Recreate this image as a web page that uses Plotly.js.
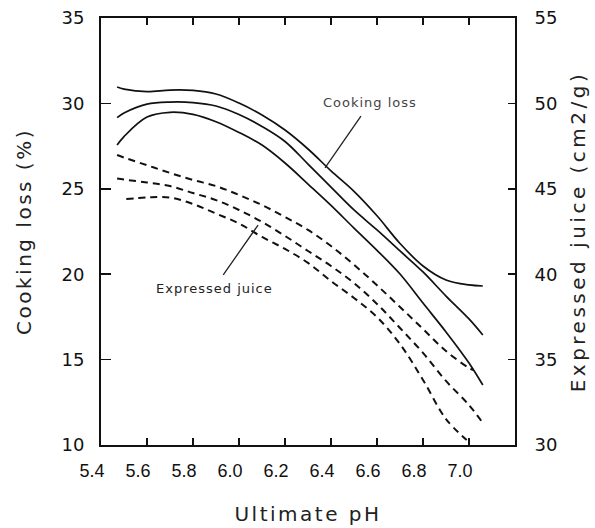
<!DOCTYPE html>
<html>
<head>
<meta charset="utf-8">
<script src="https://cdn.plot.ly/plotly-3.0.1.min.js"></script>
<style>
  html, body { margin: 0; padding: 0; background: #fff; }
  #chart { width: 595px; height: 528px; }
  .g-ytitle text { letter-spacing: 2.5px; }
  .g-y2title text { letter-spacing: 3.5px; }
  .g-xtitle text { letter-spacing: 2.5px; }
  .annotation-text { letter-spacing: 1px; }
</style>
</head>
<body>
<div id="chart"></div>
<script>
// Ultimate pH positions of the read points
const pHCook = [5.47, 5.5, 5.6, 5.7, 5.8, 5.9, 6.0, 6.1, 6.2, 6.3, 6.4, 6.5, 6.6, 6.7, 6.8, 6.9, 7.0, 7.06];
// Cooking loss (%) – three solid curves (left axis)
const cookUpper = [30.96, 30.84, 30.69, 30.78, 30.76, 30.55, 30.02, 29.32, 28.44, 27.33, 26.05, 24.85, 23.42, 21.80, 20.48, 19.66, 19.37, 19.31];
const cookMid   = [29.17, 29.44, 29.96, 30.08, 30.05, 29.85, 29.35, 28.65, 27.77, 26.45, 25.10, 23.76, 22.59, 21.36, 20.13, 18.72, 17.38, 16.44];
const cookLow   = [27.56, 28.06, 29.20, 29.48, 29.36, 28.93, 28.30, 27.56, 26.51, 25.28, 24.03, 22.70, 21.40, 20.01, 18.31, 16.62, 14.80, 13.51];

// Expressed juice (cm2/g) – three dashed curves (right axis)
const pHJuiceUpper = [5.47, 5.5, 5.6, 5.7, 5.8, 5.9, 6.0, 6.1, 6.2, 6.3, 6.4, 6.5, 6.6, 6.7, 6.8, 6.9, 7.0, 7.02];
const juiceUpper   = [46.98, 46.83, 46.38, 45.93, 45.52, 45.16, 44.64, 44.05, 43.35, 42.59, 41.65, 40.55, 39.35, 38.08, 36.79, 35.50, 34.51, 34.39];
const pHJuiceMid   = [5.47, 5.5, 5.6, 5.7, 5.8, 5.9, 6.0, 6.1, 6.2, 6.3, 6.4, 6.5, 6.6, 6.7, 6.8, 6.9, 7.0, 7.06];
const juiceMid     = [45.60, 45.54, 45.37, 45.16, 44.75, 44.34, 43.76, 43.06, 42.24, 41.36, 40.48, 39.48, 38.26, 36.85, 35.39, 33.75, 32.34, 31.29];
const pHJuiceLow   = [5.51, 5.6, 5.7, 5.8, 5.9, 6.0, 6.1, 6.2, 6.3, 6.4, 6.5, 6.6, 6.7, 6.8, 6.9, 6.99];
const juiceLow     = [44.40, 44.49, 44.49, 44.11, 43.55, 42.97, 42.18, 41.48, 40.66, 39.60, 38.61, 37.49, 35.91, 33.81, 31.52, 30.29];

// Axis ticks
const xTicks = [5.4, 5.6, 5.8, 6.0, 6.2, 6.4, 6.6, 6.8, 7.0];
const xTickText = ['5.4', '5.6', '5.8', '6.0', '6.2', '6.4', '6.6', '6.8', '7.0'];
const yLeftTicks = [10, 15, 20, 25, 30, 35];
const yRightTicks = [30, 35, 40, 45, 50, 55];

const solid = {color: '#111', width: 1.7, shape: 'spline', smoothing: 1};
const dashed = {color: '#111', width: 2, dash: '7px,5px', shape: 'spline', smoothing: 1};

const traces = [
  {x: pHCook, y: cookUpper, mode: 'lines', line: solid, yaxis: 'y', name: 'Cooking loss upper'},
  {x: pHCook, y: cookMid, mode: 'lines', line: solid, yaxis: 'y', name: 'Cooking loss'},
  {x: pHCook, y: cookLow, mode: 'lines', line: solid, yaxis: 'y', name: 'Cooking loss lower'},
  {x: pHJuiceUpper, y: juiceUpper, mode: 'lines', line: dashed, yaxis: 'y2', name: 'Expressed juice upper'},
  {x: pHJuiceMid, y: juiceMid, mode: 'lines', line: dashed, yaxis: 'y2', name: 'Expressed juice'},
  {x: pHJuiceLow, y: juiceLow, mode: 'lines', line: dashed, yaxis: 'y2', name: 'Expressed juice lower'}
];

const tickFontY = {family: 'DejaVu Sans', size: 18, color: '#111'};
const tickFontX = {family: 'Liberation Sans Narrow, Liberation Sans', size: 18, color: '#111'};
const titleFont = {family: 'DejaVu Sans', size: 20, color: '#222'};

const layout = {
  width: 595, height: 528,
  margin: {l: 101, r: 80, t: 18, b: 83},
  paper_bgcolor: '#fff', plot_bgcolor: '#fff',
  showlegend: false,
  xaxis: {
    range: [5.4, 7.2], tickvals: xTicks, ticktext: xTickText,
    ticks: 'inside', ticklen: 7, tickwidth: 1.5, tickcolor: '#111',
    showline: true, linewidth: 2, linecolor: '#111', mirror: 'ticks',
    showgrid: false, zeroline: false,
    ticklabelshift: -9, ticklabelstandoff: 8,
    tickfont: tickFontX,
    title: {text: 'Ultimate pH', font: titleFont, standoff: 27}
  },
  yaxis: {
    range: [10, 35], tickvals: yLeftTicks,
    ticks: 'inside', ticklen: 10, tickwidth: 1.5, tickcolor: '#111',
    showline: true, linewidth: 2, linecolor: '#111',
    showgrid: false, zeroline: false,
    ticklabelstandoff: 11,
    tickfont: tickFontY,
    title: {text: 'Cooking loss (%)', font: titleFont, standoff: 24}
  },
  yaxis2: {
    overlaying: 'y', side: 'right', anchor: 'x',
    range: [30, 55], tickvals: yRightTicks,
    ticks: 'inside', ticklen: 7, tickwidth: 1.5, tickcolor: '#111',
    showline: true, linewidth: 2, linecolor: '#111',
    showgrid: false, zeroline: false,
    ticklabelstandoff: 14,
    tickfont: tickFontY,
    title: {text: 'Expressed juice (cm2/g)', font: titleFont, standoff: 14}
  },
  annotations: [
    {x: 6.374, y: 26.22, xref: 'x', yref: 'y', text: 'Cooking loss',
     showarrow: true, arrowhead: 0, arrowwidth: 1.3, arrowcolor: '#222',
     ax: 45, ay: -65, startstandoff: 5,
     font: {family: 'DejaVu Sans', size: 13, color: '#444'}},
    {x: 6.083, y: 42.88, xref: 'x', yref: 'y2', text: 'Expressed juice',
     showarrow: true, arrowhead: 0, arrowwidth: 1.3, arrowcolor: '#222',
     ax: -44, ay: 63, startstandoff: 5,
     font: {family: 'DejaVu Sans', size: 13, color: '#222'}}
  ]
};

Plotly.newPlot('chart', traces, layout, {displayModeBar: false, staticPlot: true});
</script>
</body>
</html>
